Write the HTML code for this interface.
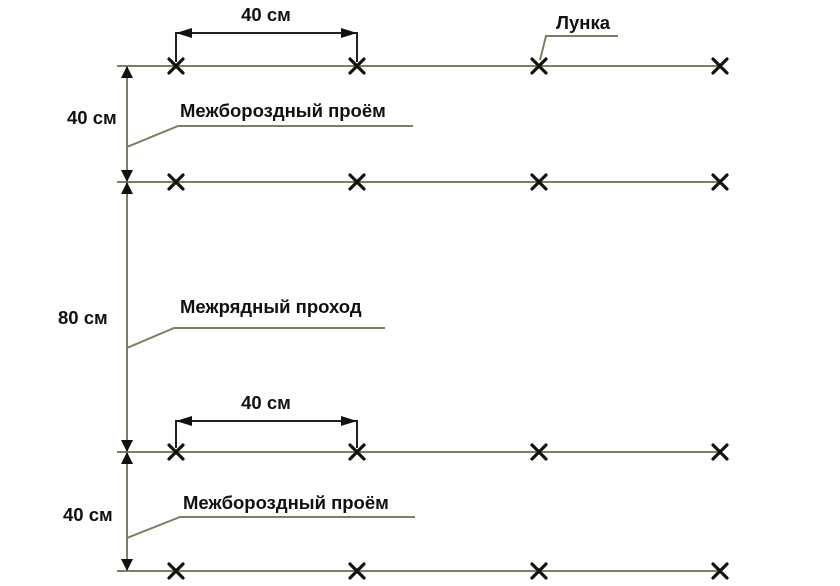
<!DOCTYPE html>
<html><head><meta charset="utf-8"><style>
html,body{margin:0;padding:0;background:#fff;width:840px;height:586px;overflow:hidden}
svg text{font-family:"Liberation Sans",sans-serif;font-weight:bold;font-size:18.5px;fill:#111}
</style></head><body>
<svg width="840" height="586" viewBox="0 0 840 586" xmlns="http://www.w3.org/2000/svg">
<g stroke="#7d7f62" stroke-width="2" fill="none">
<line x1="117" y1="66" x2="721" y2="66"/>
<line x1="117" y1="182" x2="721" y2="182"/>
<line x1="117" y1="452" x2="721" y2="452"/>
<line x1="117" y1="571" x2="721" y2="571"/>
<line x1="127" y1="66" x2="127" y2="571"/>
<polyline points="127,147 178,126 413,126"/>
<polyline points="127,348 174,328 385,328"/>
<polyline points="127,538 180,517 415,517"/>
<polyline points="540,60 546,36 618,36"/>
</g>
<g stroke="#222" stroke-width="2" fill="none">
<polyline points="176,62 176,33 357,33 357,62"/>
<polyline points="176,448 176,421 357,421 357,448"/>
</g>
<g fill="#111">
<polygon points="176,33 192,28 192,38"/>
<polygon points="357,33 341,28 341,38"/>
<polygon points="176,421 192,416 192,426"/>
<polygon points="357,421 341,416 341,426"/>
<polygon points="127,66 121,78 133,78"/>
<polygon points="127,182 121,170 133,170"/>
<polygon points="127,182 121,194 133,194"/>
<polygon points="127,452 121,440 133,440"/>
<polygon points="127,452 121,464 133,464"/>
<polygon points="127,571 121,559 133,559"/>
</g>
<g stroke="#111" stroke-width="3.2" stroke-linecap="round">
<path d="M169 59l14 14M183 59l-14 14 M350 59l14 14M364 59l-14 14 M532 59l14 14M546 59l-14 14 M713 59l14 14M727 59l-14 14"/>
<path d="M169 175l14 14M183 175l-14 14 M350 175l14 14M364 175l-14 14 M532 175l14 14M546 175l-14 14 M713 175l14 14M727 175l-14 14"/>
<path d="M169 445l14 14M183 445l-14 14 M350 445l14 14M364 445l-14 14 M532 445l14 14M546 445l-14 14 M713 445l14 14M727 445l-14 14"/>
<path d="M169 564l14 14M183 564l-14 14 M350 564l14 14M364 564l-14 14 M532 564l14 14M546 564l-14 14 M713 564l14 14M727 564l-14 14"/>
</g>
<text x="266" y="21" text-anchor="middle">40 см</text>
<text x="266" y="409" text-anchor="middle">40 см</text>
<text x="556" y="29">Лунка</text>
<text x="67" y="124">40 см</text>
<text x="58" y="324">80 см</text>
<text x="63" y="521">40 см</text>
<text x="180" y="117">Межбороздный проём</text>
<text x="180" y="313">Межрядный проход</text>
<text x="183" y="509">Межбороздный проём</text>
</svg>
</body></html>
